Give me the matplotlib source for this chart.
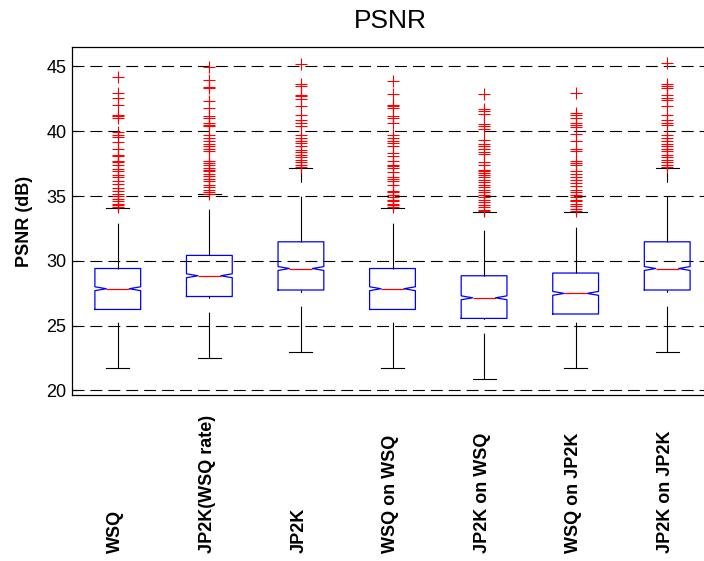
import matplotlib
matplotlib.use('Agg')
import matplotlib.pyplot as plt
import matplotlib.transforms as mtransforms

plt.rcParams['font.family'] = ['Liberation Sans', 'DejaVu Sans']
plt.rcParams['lines.scale_dashes'] = False

labels = ['WSQ', 'JP2K(WSQ rate)', 'JP2K', 'WSQ on WSQ',
          'JP2K on WSQ', 'WSQ on JP2K', 'JP2K on JP2K']
q1 = [26.25, 27.25, 27.75, 26.25, 25.56, 25.90, 27.75]
med = [27.85, 28.85, 29.41, 27.85, 27.15, 27.49, 29.41]
q3 = [29.41, 30.42, 31.47, 29.41, 28.85, 29.06, 31.47]
cilo = [27.70, 28.70, 29.26, 27.70, 27.00, 27.34, 29.26]
cihi = [28.00, 29.00, 29.56, 28.00, 27.30, 27.64, 29.56]
whislo = [21.70, 22.47, 22.93, 21.70, 20.88, 21.70, 22.93]
whishi = [34.07, 35.12, 37.16, 34.07, 33.76, 33.76, 37.16]

# outliers (approximate)
fl_wsq = [44.18, 42.94, 42.60, 42.04, 41.27, 41.14, 41.00, 39.94, 39.73, 39.55,
          39.16, 38.65, 38.19, 38.06, 37.73, 37.62, 37.42, 37.10, 36.90, 36.59,
          36.44, 36.13, 35.93, 35.62, 35.41, 35.15, 34.97, 34.79, 34.59, 34.41,
          34.28, 34.13]
fl_jp2k_wr = [44.92, 43.97, 43.38, 43.33, 42.35, 41.79, 41.14, 41.02, 40.63, 40.45,
              40.37, 39.68, 39.47, 39.27, 39.01, 38.83, 38.65, 38.44, 37.72, 37.54,
              37.36, 37.16, 37.03, 36.90, 36.70, 36.52, 36.34, 36.13, 35.87, 35.67,
              35.49, 35.31, 35.15]
fl_jp2k = [45.18, 43.64, 43.46, 42.81, 42.69, 42.51, 41.92, 41.27, 40.89, 40.63,
           40.37, 39.73, 39.47, 39.27, 39.09, 38.83, 38.57, 38.39, 38.19, 37.98,
           37.80, 37.62, 37.42, 37.21]
fl_wsq_wsq = [43.89, 42.87, 42.04, 41.92, 41.79, 41.14, 41.02, 40.63, 39.68, 39.47,
              39.27, 39.09, 38.83, 38.32, 38.06, 37.72, 37.42, 37.29, 37.16, 36.85,
              36.44, 36.34, 36.13, 35.82, 35.41, 35.31, 35.10, 34.90, 34.72, 34.59,
              34.38, 34.28, 34.13]
fl_jp2k_wsq = [42.87, 41.74, 41.53, 41.32, 40.55, 40.37, 40.19, 39.34, 39.01, 38.83,
               38.65, 38.39, 38.24, 37.62, 37.42, 37.03, 36.90, 36.77, 36.59, 36.44,
               36.26, 36.08, 35.87, 35.67, 35.49, 35.31, 35.10, 34.90, 34.72, 34.54,
               34.33, 34.13, 33.95, 33.85]
fl_wsq_jp2k = [42.94, 41.40, 41.27, 41.02, 40.63, 40.45, 40.30, 39.78, 39.27, 38.65,
               38.44, 37.72, 37.54, 37.42, 36.90, 36.70, 36.44, 36.26, 36.00, 35.75,
               35.49, 35.31, 35.10, 34.90, 34.72, 34.59, 34.38, 34.20, 34.02, 33.87]
fl_jp2k_jp2k = [45.26, 43.64, 43.46, 43.33, 42.81, 42.60, 42.43, 41.92, 41.27, 40.89,
                40.63, 40.45, 39.73, 39.47, 39.27, 39.01, 38.83, 38.65, 38.44, 38.19,
                37.98, 37.80, 37.62, 37.42, 37.21]
fliers = [fl_wsq, fl_jp2k_wr, fl_jp2k, fl_wsq_wsq, fl_jp2k_wsq, fl_wsq_jp2k, fl_jp2k_jp2k]

yticks = [20, 25, 30, 35, 40, 45]

stats = []
for i in range(len(labels)):
    stats.append(dict(label=labels[i], q1=q1[i], med=med[i], q3=q3[i],
                      cilo=cilo[i], cihi=cihi[i], whislo=whislo[i],
                      whishi=whishi[i], fliers=fliers[i]))

fig = plt.figure(figsize=(7.04, 5.61), dpi=100)
ax = fig.add_axes([72 / 704, 166 / 561, 641 / 704, 348 / 561])
positions = list(range(1, len(labels) + 1))

bp = ax.bxp(stats, positions=positions, widths=0.5, shownotches=True,
            boxprops=dict(color='blue', linewidth=0.9),
            medianprops=dict(color='red', linewidth=0.9),
            whiskerprops=dict(color='black', linewidth=0.8, linestyle=(0, (33, 10))),
            capprops=dict(color='black', linewidth=0.8),
            flierprops=dict(marker='+', markeredgecolor='red', markersize=9,
                            markeredgewidth=0.8, linestyle='none'))

# matlab draws the lower whisker starting from the cap
for w in bp['whiskers'][0::2]:
    x, y = w.get_data()
    w.set_data(list(x)[::-1], list(y)[::-1])

ax.set_xlim(0.5, 7.5)
ax.set_ylim(19.65, 46.5)
ax.set_yticks(yticks)
ax.set_xticks([])
ax.yaxis.grid(True, linestyle=(0, (8.6, 4.3)), color='black', linewidth=0.8)
ax.set_axisbelow(True)
ax.tick_params(axis='y', direction='in', length=4, pad=4, labelsize=13)
for s in ax.spines.values():
    s.set_linewidth(0.9)

ax.set_ylabel('PSNR (dB)', fontsize=13, fontweight='bold')
ax.yaxis.set_label_coords((33 - 72) / 641, 0.5)

fig.text(390 / 704, 1 - 21 / 561, 'PSNR', ha='center', va='center', fontsize=19)

trans = mtransforms.blended_transform_factory(ax.transData, fig.transFigure)
for p, lab in zip(positions, labels):
    ax.text(p - 0.02, 8 / 561, lab, transform=trans, rotation=90,
            ha='center', va='bottom', fontsize=13, fontweight='bold')

fig.savefig('out.png', dpi=100)
